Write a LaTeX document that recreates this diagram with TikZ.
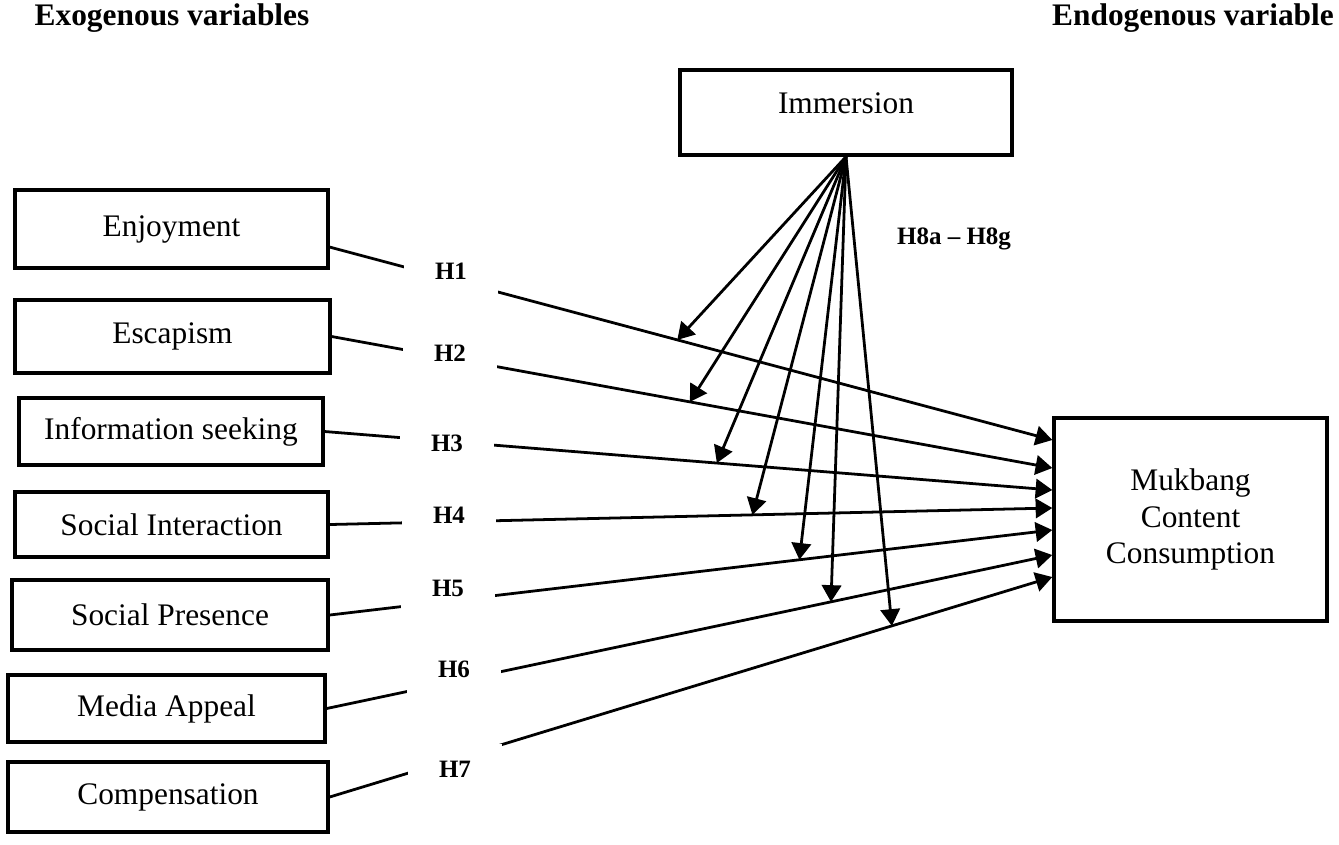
\documentclass[tikz,border=0pt]{standalone}
\usepackage{fontspec}
\setmainfont{Liberation Serif}
\usetikzlibrary{arrows.meta,calc}

\begin{document}
\begin{tikzpicture}[x=0.36pt,y=-0.36pt,font=\fontsize{11.3}{13}\selectfont,
	var/.style={draw,line width=1.2pt,inner sep=0pt,align=center},
	head/.style={font=\fontsize{11.3}{13}\selectfont\bfseries},
	hyp/.style={fill=white,inner sep=0pt,minimum width=34pt,minimum height=18pt,font=\fontsize{9}{11}\selectfont\bfseries},
	link/.style={line width=1pt,-{Triangle[length=6pt,width=7pt]}}]
			\useasboundingbox (0,0) rectangle (1339,844);
			\node[head] (exo) at (172,18) {Exogenous variables};
			\node[head] (endo) at (1193,18) {Endogenous variable};

			\node[var,minimum width=112.7pt,minimum height=28.1pt] (enj) at (171.5,229) {Enjoyment};
			\node[var,minimum width=113.4pt,minimum height=26.3pt] (esc) at (172.5,336.5) {Escapism};
			\node[var,minimum width=109.4pt,minimum height=24.1pt] (inf) at (171,431.5) {Information seeking};
			\node[var,minimum width=112.7pt,minimum height=23.4pt] (soc) at (171.5,524.5) {Social Interaction};
			\node[var,minimum width=113.8pt,minimum height=25.2pt] (pre) at (170,615) {Social Presence};
			\node[var,minimum width=114.1pt,minimum height=24.1pt] (app) at (166.5,708.5) {Media Appeal};
			\node[var,minimum width=115.2pt,minimum height=25.2pt] (com) at (168,797) {Compensation};
			\node[var,minimum width=119.5pt,minimum height=30.6pt,text depth=7pt] (imm) at (846,112.5) {Immersion};
			\node[var,minimum width=98.3pt,minimum height=73.1pt] (muk) at (1190.5,519.5) {Mukbang\\Content\\Consumption};

			\draw[link] ([yshift=-6.5pt]enj.east) -- coordinate[pos=.481] (m1) ($(muk.west)+(0,-79.5)$);
			\draw[link] (esc.east) -- coordinate[pos=.497] (m2) ($(muk.west)+(0,-51.5)$);
			\draw[link] (inf.east) -- coordinate[pos=.539] (m3) ($(muk.west)+(0,-29.5)$);
			\draw[link] (soc.east) -- coordinate[pos=.585] (m4) ($(muk.west)+(0,-11.5)$);
			\draw[link] (pre.east) -- coordinate[pos=.650] (m5) ($(muk.west)+(0,10.5)$);
			\draw[link] (app.east) -- coordinate[pos=.695] (m6) ($(muk.west)+(0,35.5)$);
			\draw[link] (com.east) -- coordinate[pos=.778] (m7) ($(muk.west)+(0,57.5)$);

			\draw[link] (imm.south) -- (m1);
			\draw[link] (imm.south) -- (m2);
			\draw[link] (imm.south) -- (m3);
			\draw[link] (imm.south) -- (m4);
			\draw[link] (imm.south) -- (m5);
			\draw[link] (imm.south) -- (m6);
			\draw[link] (imm.south) -- (m7);

			\node[hyp] (h1) at (451,271) {H1};
			\node[hyp] (h2) at (450,353) {H2};
			\node[hyp] (h3) at (447,443) {H3};
			\node[hyp] (h4) at (449,515) {H4};
			\node[hyp] (h5) at (448,588) {H5};
			\node[hyp] (h6) at (454,669) {H6};
			\node[hyp] (h7) at (455,769) {H7};
			\node[hyp] (h8) at (954,239) {H8a -- H8g};
\end{tikzpicture}
\end{document}
